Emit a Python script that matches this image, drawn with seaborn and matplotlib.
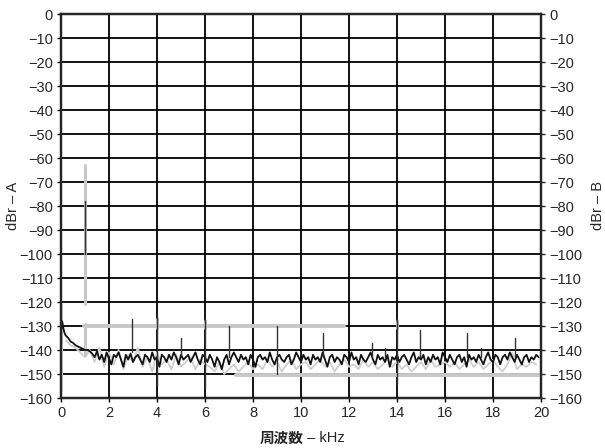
import numpy as np
import pandas as pd
import matplotlib
matplotlib.use("Agg")
import matplotlib.pyplot as plt
import seaborn as sns

# ---------------- data ----------------
y_ticks = [0, -10, -20, -30, -40, -50, -60, -70, -80, -90, -100, -110, -120, -130, -140, -150, -160]
x_ticks = [0, 2, 4, 6, 8, 10, 12, 14, 16, 18, 20]

# channel A: low-frequency rise of the noise floor
a_low_freq = [0.02, 0.05, 0.1, 0.15, 0.2, 0.3, 0.4, 0.5, 0.6, 0.7, 0.8, 0.9, 1.0, 1.1, 1.2]
a_low_db = [-131, -128, -131, -133, -134, -135, -136.5, -137, -138, -138.5, -139, -139.5, -140, -140, -140.5]

# channel A: noise floor, 1.3 .. 19.9 kHz (0.1 kHz bins)
a_floor_db = [
    -141.5, -143, -140.5, -144, -142, -145, -141, -143.5, -146, -142,
    -143, -141, -144, -147, -142, -144, -141.5, -145, -143, -142,
    -144, -146, -142, -143, -145, -141, -144, -143, -147, -142,
    -143, -145, -142, -144, -141, -143, -146, -142, -144, -143,
    -142, -145, -143, -141, -144, -146, -142, -143, -145, -142,
    -144, -147, -143, -145, -148, -144, -142, -146, -143, -141,
    -143, -145, -142, -144, -143, -146, -142, -144, -147, -143,
    -142, -144, -143, -145, -141, -144, -146, -143, -142, -144,
    -145, -143, -142, -146, -144, -141, -143, -145, -142, -144,
    -143, -146, -142, -144, -143, -145, -141, -144, -147, -143,
    -142, -145, -143, -144, -146, -142, -143, -145, -141, -144,
    -143, -146, -142, -144, -145, -143, -141, -144, -146, -142,
    -144, -143, -145, -142, -147, -143, -144, -142, -145, -143,
    -142, -144, -146, -143, -141, -145, -143, -144, -142, -146,
    -143, -145, -142, -144, -143, -146, -141, -143, -145, -142,
    -144, -146, -143, -142, -145, -143, -147, -142, -144, -143,
    -145, -142, -144, -146, -143, -141, -144, -145, -142, -143,
    -146, -143, -142, -144, -141, -143, -145, -142, -144, -146,
    -143, -142, -145, -143, -144, -142, -143,
]
a_floor_freq = list(np.round(np.arange(13, 13 + len(a_floor_db)) / 10.0, 1))

# channel A: spurs (frequency, top dB, bottom dB)
a_spur_freq = [0.0, 1.0, 2.95, 4.0, 5.0, 6.0, 7.0, 9.0, 10.9, 12.95, 13.5, 14.0, 14.95, 16.9, 17.5, 18.9, 20.0]
a_spur_top = [-128, -78, -127, -126, -135, -127, -130, -130, -133, -137, -139, -127, -131.5, -133, -139, -135, -128]
a_spur_bot = [-137, -100, -141, -155, -142, -156, -143, -150, -143, -143, -143, -154, -143, -143, -143, -143, -160]

# channel B: noise floor, 0.2 .. 19.8 kHz (0.2 kHz bins)
b_floor_db = [
    -136, -138, -139, -141, -143, -140, -145, -139, -147, -141,
    -146, -140, -148, -142, -145, -139, -147, -143, -149, -141,
    -146, -144, -148, -142, -147, -145, -143, -148, -144, -146,
    -147, -149, -145, -150, -148, -146, -149, -147, -145, -148,
    -146, -148, -144, -147, -145, -149, -146, -144, -148, -146,
    -145, -148, -146, -144, -147, -145, -149, -146, -144, -147,
    -146, -148, -144, -147, -145, -148, -146, -144, -147, -145,
    -148, -146, -149, -147, -145, -148, -144, -147, -146, -145,
    -147, -145, -148, -146, -144, -147, -145, -148, -146, -144,
    -147, -149, -146, -141, -148, -146, -147, -145, -146,
]
b_floor_freq = list(np.round(np.arange(1, 1 + len(b_floor_db)) * 0.2, 1))

# channel B: plateaus (start kHz, end kHz, level dB)
b_plateau_start = [0.95, 7.3]
b_plateau_end = [11.8, 20.0]
b_plateau_db = [-129.8, -150.5]

# channel B: spurs (frequency, top dB, bottom dB)
b_spur_freq = [0.0, 1.0, 1.0, 4.0, 6.0, 14.0]
b_spur_top = [-121, -63, -129, -127, -128, -128]
b_spur_bot = [-157, -121, -142, -131, -131, -131]

# ---------------- frames ----------------
a_line = pd.DataFrame({"f": a_low_freq + a_floor_freq, "db": a_low_db + a_floor_db})
b_line = pd.DataFrame({"f": b_floor_freq, "db": b_floor_db})

def segs(f0, f1, y0, y1):
    rows = []
    for i, (a, b, c, d) in enumerate(zip(f0, f1, y0, y1)):
        rows.append({"id": i, "f": a, "db": c})
        rows.append({"id": i, "f": b, "db": d})
    return pd.DataFrame(rows)

a_spurs = segs(a_spur_freq, a_spur_freq, a_spur_top, a_spur_bot)
b_spurs = segs(b_spur_freq, b_spur_freq, b_spur_top, b_spur_bot)
b_plats = segs(b_plateau_start, b_plateau_end, b_plateau_db, b_plateau_db)

# ---------------- style ----------------
sns.set_style("ticks")
plt.rcParams["font.family"] = ["Liberation Sans", "DejaVu Sans"]
plt.rcParams["axes.unicode_minus"] = True

fig = plt.figure(figsize=(6.05, 4.48), dpi=100)
ax = fig.add_axes([61 / 605, 1 - 398 / 448, 480 / 605, 384 / 448])

grey = "#c8c8c8"
sns.lineplot(data=b_plats, x="f", y="db", units="id", estimator=None, sort=False,
             color=grey, lw=2.8, ax=ax, zorder=3)
sns.lineplot(data=b_line, x="f", y="db", estimator=None, sort=False,
             color="#cfcfcf", lw=1.3, ax=ax, zorder=3)
sns.lineplot(data=b_spurs, x="f", y="db", units="id", estimator=None, sort=False,
             color=grey, lw=2.2, ax=ax, zorder=3)
sns.lineplot(data=a_line, x="f", y="db", estimator=None, sort=False,
             color="#111111", lw=1.3, ax=ax, zorder=4)
sns.lineplot(data=a_spurs, x="f", y="db", units="id", estimator=None, sort=False,
             color="#333333", lw=1.0, ax=ax, zorder=4)

ax.set_xlim(0, 20)
ax.set_ylim(-160, 0)
ax.set_xticks(x_ticks)
ax.set_yticks(y_ticks)
ax.grid(True, color="black", lw=1.3)
for s in ax.spines.values():
    s.set_linewidth(1.6)
    s.set_color("black")
ax.tick_params(axis="both", labelsize=10.5, length=3, width=1, pad=3, color="black")
ax.set_xlabel("")
ax.set_ylabel("dBr – A", fontsize=10.5, labelpad=0)
ax.yaxis.set_label_coords(-41 / 480, 0.5)

ax2 = ax.twinx()
ax2.set_ylim(-160, 0)
ax2.set_yticks(y_ticks)
ax2.tick_params(axis="y", labelsize=10.5, length=3, width=1, pad=3)
ax2.set_ylabel("dBr – B", fontsize=10.5)
ax2.yaxis.set_label_coords(1 + 50 / 480, 0.5)
for s in ax2.spines.values():
    s.set_linewidth(1.6)

fig.text(303 / 605, 1 - 438 / 448, "周波数", ha="right", va="center", fontsize=10.5,
         fontweight="bold", family=["Noto Sans CJK JP", "DejaVu Sans"])
fig.text(303 / 605, 1 - 438 / 448, " – kHz", ha="left", va="center", fontsize=10.5)

fig.savefig("out.png", dpi=100)
